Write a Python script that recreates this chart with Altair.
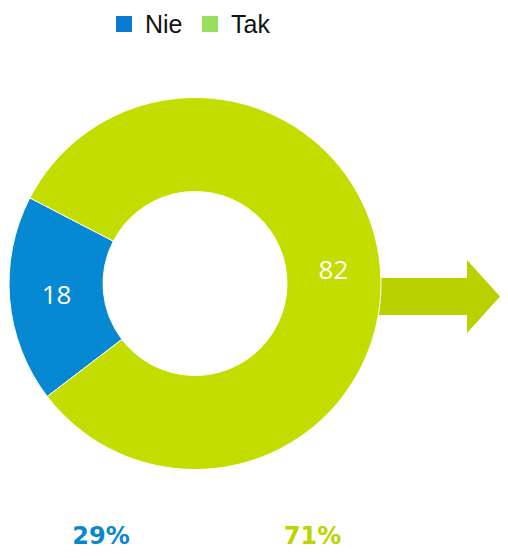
import altair as alt
import pandas as pd
import math

# Data
categories = ["Nie", "Tak"]
values = [18, 82]
share_labels = ["29%", "71%"]

slice_colors = ["#0788D2", "#C4DD00"]
legend_colors = ["#0B7AD0", "#9ADE5E"]
share_colors = ["#0C86CC", "#BCD500"]

df = pd.DataFrame({"cat": categories, "value": values, "order": [0, 1]})
legend_df = pd.DataFrame({"cat": categories})
share_df = pd.DataFrame({"label": share_labels, "cat": categories})
arrow_df = pd.DataFrame({"k": [0]})

CX, CY = 187, 275.5
R_OUT, R_IN = 186, 92
start = math.radians(232.6)
theta_scale = alt.Scale(domain=[0, 100], range=[start, start + 2 * math.pi])

# decorative arrow behind the donut
arrow_path = ("M340,270 L459,270 L459,252 L492,288.5 L459,325 L459,307 L340,307 Z")
arrow = alt.Chart(arrow_df).mark_point(
    shape=arrow_path, filled=True, color="#BBD000", opacity=1, size=4, strokeWidth=0
).encode(x=alt.value(0), y=alt.value(0))

base = alt.Chart(df).encode(
    theta=alt.Theta("value:Q", stack=True, scale=theta_scale),
    order=alt.Order("order:Q"),
)
arcs = base.mark_arc(outerRadius=R_OUT, innerRadius=R_IN, stroke="white", strokeWidth=1).encode(
    x=alt.value(CX), y=alt.value(CY),
    color=alt.Color("cat:N", scale=alt.Scale(domain=categories, range=slice_colors), legend=None),
)
arc_labels = base.mark_text(radius=139, font="Open Sans", fontSize=26, color="white",
                            align="center", baseline="middle").encode(
    x=alt.value(CX), y=alt.value(CY),
    text=alt.Text("value:Q"),
)

leg_x = alt.X("cat:N", scale=alt.Scale(type="point", domain=categories, range=[116, 202], padding=0), axis=None)
leg_sq = alt.Chart(legend_df).mark_square(size=256, opacity=1, filled=True).encode(
    x=leg_x, y=alt.value(16),
    color=alt.Color("cat:N", scale=alt.Scale(domain=categories, range=legend_colors), legend=None),
)
leg_txt = alt.Chart(legend_df).mark_text(
    font="Liberation Sans", fontSize=25, color="#111111", align="left", baseline="alphabetic", dx=21
).encode(x=leg_x, y=alt.value(25), text="cat:N")

share_txt = alt.Chart(share_df).mark_text(
    font="DejaVu Sans", fontWeight="bold", fontSize=24, align="center", baseline="alphabetic"
).encode(
    x=alt.X("label:N", scale=alt.Scale(type="point", domain=share_labels, range=[93, 304.5], padding=0), axis=None),
    y=alt.value(536),
    text="label:N",
    color=alt.Color("cat:N", scale=alt.Scale(domain=categories, range=share_colors), legend=None),
)

chart = alt.layer(arrow, arcs, arc_labels, leg_sq, leg_txt, share_txt).resolve_scale(
    x="independent", color="independent"
).properties(
    width=492, height=542, padding=0, autosize=alt.AutoSizeParams(type="none")
).configure_view(stroke=None)

chart.save("out.html", embed_options={"renderer": "svg", "actions": False})
